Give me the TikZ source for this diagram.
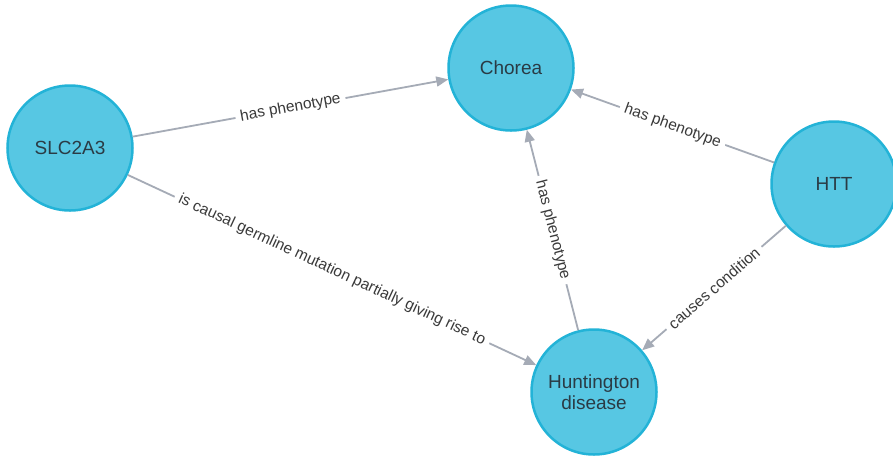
\documentclass[tikz,border=0pt]{standalone}
\usepackage{fontspec}
\setmainfont{Liberation Sans}
\usetikzlibrary{arrows.meta}
\definecolor{nodefill}{HTML}{57C7E3}
\definecolor{nodeline}{HTML}{23B3D7}
\definecolor{edgegray}{HTML}{A5ABB6}
\definecolor{nodetext}{HTML}{2A3B45}
\definecolor{labeltext}{HTML}{3A3A3A}
\begin{document}
\begin{tikzpicture}[x=1pt,y=-1pt,
  concept/.style={circle, fill=nodefill, draw=nodeline, line width=2.5pt,
    minimum size=125pt, inner sep=0pt, text=nodetext,
    font=\fontsize{19}{21}\selectfont, align=center},
  rel/.style={draw=edgegray, line width=1.8pt,
    -{Triangle[length=12pt,width=10pt]}},
  rellabel/.style={fill=white, text=labeltext, font=\fontsize{15.5}{17}\selectfont,
    inner xsep=5pt, inner ysep=2pt, sloped, midway}
]
\useasboundingbox[fill=white] (0,0) rectangle (893,456);

% entities
\node[concept] (chorea) at (511,68) {Chorea};
\node[concept] (slc) at (70,148) {SLC2A3};
\node[concept] (htt) at (834,184) {HTT};
\node[concept] (hd) at (594,392) {Huntington\\disease};

% relations
\draw[rel] (slc) -- (chorea) node[rellabel] {has phenotype};
\draw[rel] (htt) -- (chorea) node[rellabel] {has phenotype};
\draw[rel] (hd) -- (chorea) node[rellabel] {has phenotype};
\draw[rel] (htt) -- (hd) node[rellabel] {causes condition};
\draw[rel] (slc) -- (hd) node[rellabel] {is causal germline mutation partially giving rise to};
\end{tikzpicture}
\end{document}
